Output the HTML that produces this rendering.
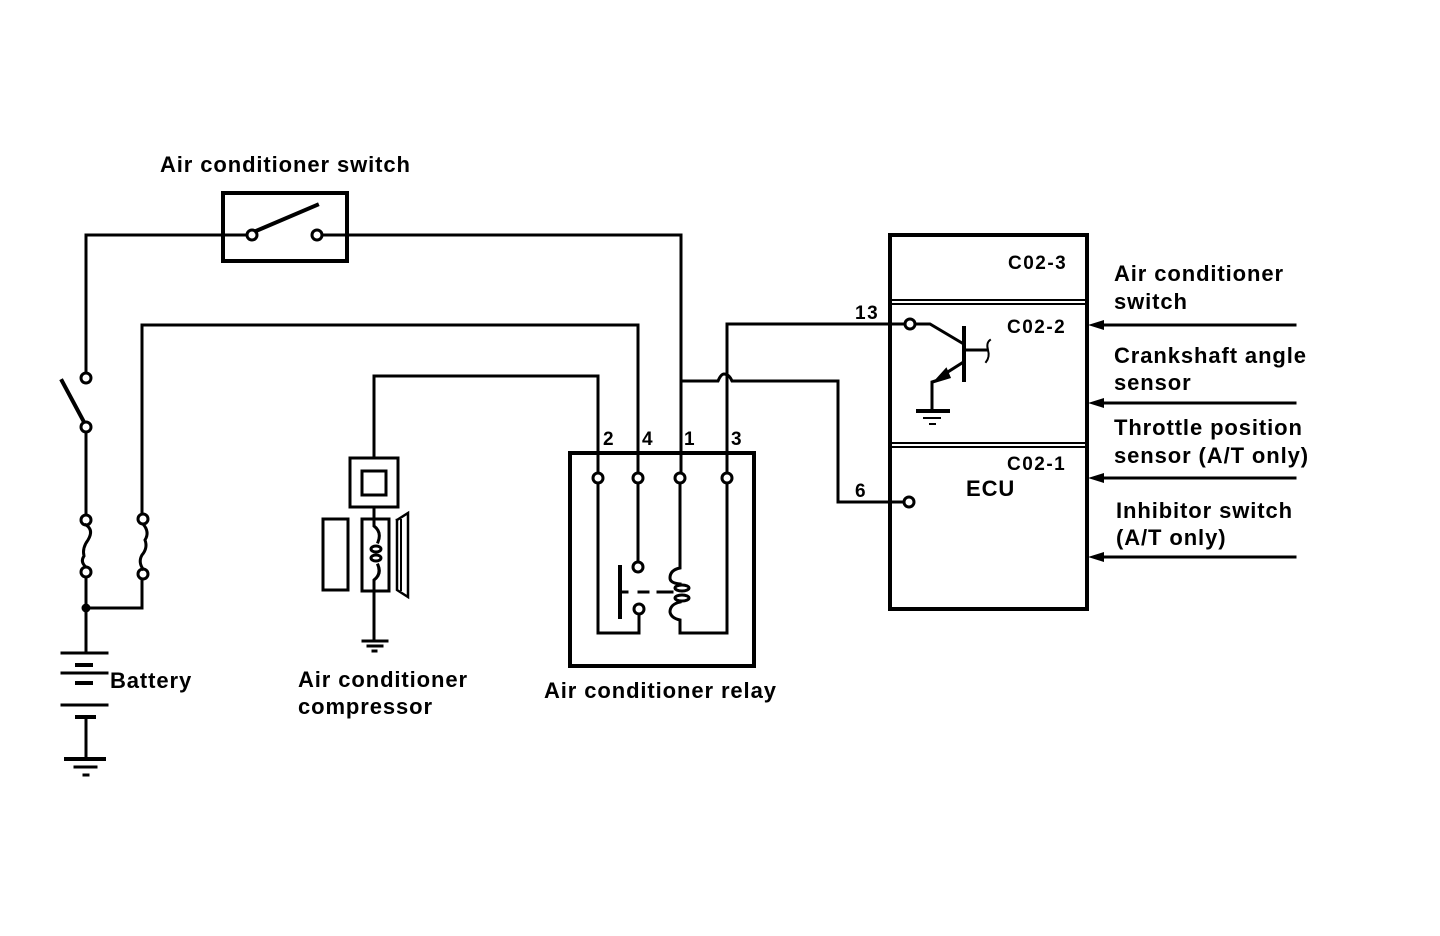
<!DOCTYPE html>
<html><head><meta charset="utf-8"><style>
html,body{margin:0;padding:0;background:#fff;}
svg{display:block;}
text{font-family:"Liberation Sans",sans-serif;font-size:22px;font-weight:bold;letter-spacing:0.9px;fill:#000;}
.n{font-size:19px;letter-spacing:1.5px;}
</style></head><body>
<svg width="1440" height="936" viewBox="0 0 1440 936" xmlns="http://www.w3.org/2000/svg">
<g fill="none" stroke="#000" stroke-width="3" stroke-linecap="square">
<rect x="223" y="193" width="124" height="68" stroke-width="4"/>
<line x1="86" y1="235" x2="246" y2="235"/>
<line x1="323" y1="235" x2="681" y2="235"/>
<circle cx="252" cy="235" r="5" fill="#fff"/>
<circle cx="317" cy="235" r="5" fill="#fff"/>
<line x1="256" y1="231" x2="317" y2="205" stroke-width="4"/>
<line x1="86" y1="235" x2="86" y2="372"/>
<circle cx="86" cy="378" r="5" fill="#fff"/>
<line x1="62" y1="381" x2="84" y2="422" stroke-width="4"/>
<circle cx="86" cy="427" r="5" fill="#fff"/>
<line x1="86" y1="432" x2="86" y2="514"/>
<circle cx="86" cy="520" r="5" fill="#fff"/>
<path d="M86 525 Q94 530 88 540 Q82 548 84 556 Q80 562 86 567"/>
<circle cx="86" cy="572" r="5" fill="#fff"/>
<line x1="86" y1="577" x2="86" y2="652"/>
<line x1="86" y1="608" x2="142" y2="608"/>
<circle cx="86" cy="608" r="3" fill="#000"/>
<line x1="142" y1="608" x2="142" y2="579"/>
<circle cx="143" cy="574" r="5" fill="#fff"/>
<path d="M143 569 Q138 562 142 555 Q148 548 145 540 Q150 532 143 524"/>
<circle cx="143" cy="519" r="5" fill="#fff"/>
<line x1="142" y1="514" x2="142" y2="325"/>
<line x1="142" y1="325" x2="638" y2="325"/>
<line x1="638" y1="325" x2="638" y2="472"/>
<line x1="62" y1="653" x2="107" y2="653"/>
<line x1="77" y1="665" x2="91" y2="665" stroke-width="4"/>
<line x1="62" y1="673" x2="107" y2="673"/>
<line x1="77" y1="683" x2="91" y2="683" stroke-width="4"/>
<line x1="62" y1="705" x2="107" y2="705"/>
<line x1="77" y1="717" x2="94" y2="717" stroke-width="4"/>
<line x1="86" y1="717" x2="86" y2="758"/>
<line x1="66" y1="759" x2="104" y2="759" stroke-width="4"/>
<line x1="75" y1="767" x2="96" y2="767"/>
<line x1="84" y1="775" x2="88" y2="775"/>
<line x1="374" y1="376" x2="598" y2="376"/>
<line x1="374" y1="376" x2="374" y2="458"/>
<line x1="598" y1="376" x2="598" y2="472"/>
<rect x="350" y="458" width="48" height="49"/>
<rect x="362" y="471" width="24" height="24"/>
<line x1="374" y1="507" x2="374" y2="519"/>
<rect x="323" y="519" width="25" height="71"/>
<rect x="362" y="519" width="27" height="72"/>
<path d="M374 519 L374 526 Q382 532 378 542"/>
<ellipse cx="376" cy="549" rx="5" ry="3"/>
<ellipse cx="376" cy="558" rx="5" ry="3"/>
<path d="M378 565 Q382 574 374 580 L374 591"/>
<path d="M397 520 L397 590 L408 597 L408 513 L397 520" stroke-width="2.5"/>
<line x1="401" y1="520" x2="401" y2="590" stroke-width="2"/>
<line x1="374" y1="591" x2="374" y2="640"/>
<line x1="363" y1="641" x2="387" y2="641"/>
<line x1="368" y1="646" x2="382" y2="646"/>
<line x1="373" y1="651" x2="376" y2="651"/>
<line x1="681" y1="235" x2="681" y2="472"/>
<path d="M681 381 L718 381 Q721 374 724 374 Q729 374 732 381 L838 381 L838 502 L905 502"/>
<path d="M727 472 L727 324 L904 324"/>
<rect x="570" y="453" width="184" height="213" stroke-width="4"/>
<circle cx="598" cy="478" r="5" fill="#fff"/>
<circle cx="638" cy="478" r="5" fill="#fff"/>
<circle cx="680" cy="478" r="5" fill="#fff"/>
<circle cx="727" cy="478" r="5" fill="#fff"/>
<path d="M598 483 L598 633 L639 633 L639 614"/>
<circle cx="639" cy="609" r="5" fill="#fff"/>
<line x1="638" y1="483" x2="638" y2="562"/>
<circle cx="638" cy="567" r="5" fill="#fff"/>
<line x1="620" y1="567" x2="620" y2="617" stroke-width="4"/>
<line x1="620" y1="592" x2="627" y2="592"/>
<line x1="639" y1="592" x2="648" y2="592"/>
<line x1="658" y1="592" x2="672" y2="592"/>
<path d="M680 483 L680 568 Q670 570 670 578 Q670 583 680 584"/>
<ellipse cx="682" cy="588" rx="7" ry="3"/>
<ellipse cx="682" cy="598" rx="7" ry="3"/>
<path d="M680 602 Q670 604 670 612 Q671 618 680 620 L680 633 L727 633 L727 483"/>
<rect x="890" y="235" width="197" height="374" stroke-width="4"/>
<line x1="890" y1="300" x2="1087" y2="300" stroke-width="2"/>
<line x1="890" y1="304" x2="1087" y2="304" stroke-width="2"/>
<line x1="890" y1="443" x2="1087" y2="443" stroke-width="2"/>
<line x1="890" y1="447" x2="1087" y2="447" stroke-width="2"/>
<circle cx="910" cy="324" r="5" fill="#fff"/>
<circle cx="909" cy="502" r="5" fill="#fff"/>
<path d="M915 324 L930 324 L962 343"/>
<line x1="964" y1="328" x2="964" y2="380" stroke-width="4"/>
<line x1="964" y1="350" x2="987" y2="350"/>
<path d="M990 340 Q986 343 988 350 Q990 357 986 362" stroke-width="2"/>
<line x1="962" y1="363" x2="943" y2="375"/>
<polygon points="936,381 946,370 949,377" fill="#000"/>
<path d="M938 380 L932 382 L932 408"/>
<line x1="918" y1="411" x2="948" y2="411" stroke-width="4"/>
<line x1="924" y1="418" x2="940" y2="418" stroke-width="2"/>
<line x1="930" y1="424" x2="935" y2="424" stroke-width="2"/>
<line x1="1100" y1="325" x2="1295" y2="325"/>
<line x1="1100" y1="403" x2="1295" y2="403"/>
<line x1="1100" y1="478" x2="1295" y2="478"/>
<line x1="1100" y1="557" x2="1295" y2="557"/>
</g>
<g fill="#000">
<polygon points="1088,325 1104,320 1104,330"/>
<polygon points="1088,403 1104,398 1104,408"/>
<polygon points="1088,478 1104,473 1104,483"/>
<polygon points="1088,557 1104,552 1104,562"/>
</g>
<text x="160" y="172">Air conditioner switch</text>
<text x="110" y="688">Battery</text>
<text x="298" y="687">Air conditioner</text>
<text x="298" y="714">compressor</text>
<text x="544" y="698">Air conditioner relay</text>
<text x="1114" y="281">Air conditioner</text>
<text x="1114" y="309">switch</text>
<text x="1114" y="363">Crankshaft angle</text>
<text x="1114" y="390">sensor</text>
<text x="1114" y="435">Throttle position</text>
<text x="1114" y="463">sensor (A/T only)</text>
<text x="1116" y="518">Inhibitor switch</text>
<text x="1116" y="545">(A/T only)</text>
<text x="966" y="496">ECU</text>
<text class="n" x="1008" y="269">C02-3</text>
<text class="n" x="1007" y="333">C02-2</text>
<text class="n" x="1007" y="470">C02-1</text>
<text class="n" x="855" y="319">13</text>
<text class="n" x="855" y="497">6</text>
<text class="n" x="603" y="445">2</text>
<text class="n" x="642" y="445">4</text>
<text class="n" x="684" y="445">1</text>
<text class="n" x="731" y="445">3</text>
</svg>
</body></html>
